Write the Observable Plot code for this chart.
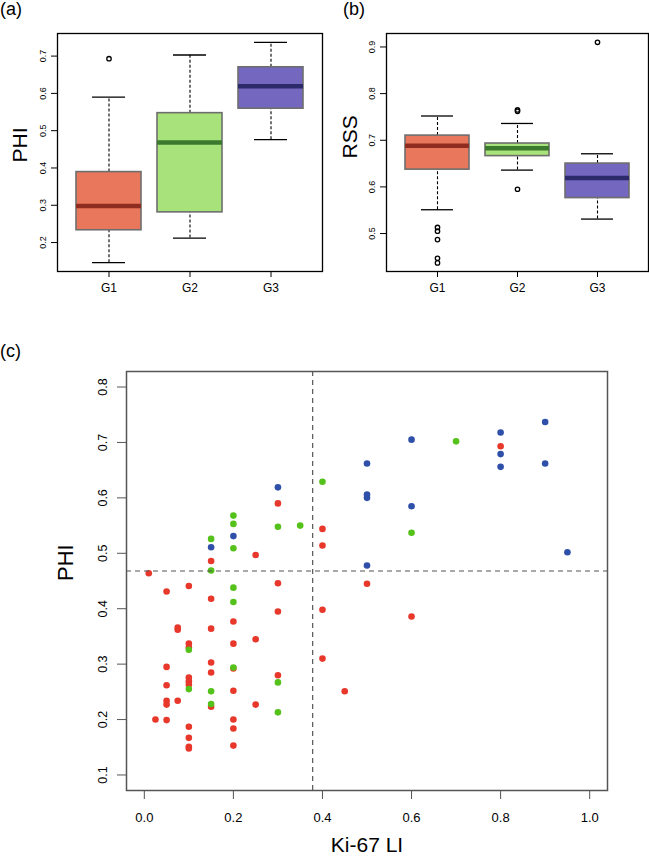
<!DOCTYPE html>
<html><head><meta charset="utf-8">
<script src="https://cdn.jsdelivr.net/npm/d3@7"></script>
<script src="https://cdn.jsdelivr.net/npm/@observablehq/plot@0.6"></script>
<style>
body{margin:0;background:#fff;}
#wrap{position:relative;width:649px;height:857px;font-family:"Liberation Sans",Arial,Helvetica,sans-serif;overflow:hidden;background:#fff}
.pl{position:absolute;font-size:18px;color:#000;line-height:1}
.panel{position:absolute}
.panel svg{display:block}
</style></head><body>
<div id="wrap">
  <div class="panel" id="pa" style="left:0;top:0"></div>
  <div class="panel" id="pb" style="left:330px;top:0"></div>
  <div class="panel" id="pc" style="left:0;top:330px"></div>
  <div class="pl" style="left:0;top:0">(a)</div>
  <div class="pl" style="left:343px;top:0">(b)</div>
  <div class="pl" style="left:0;top:342px">(c)</div>
</div>
<script>
// ---- data ----
const groups = ["G1", "G2", "G3"];

// (a) PHI boxplot statistics
const phiMin = [0.146, 0.212, 0.476];
const phiQ1  = [0.233, 0.281, 0.559];
const phiMed = [0.298, 0.468, 0.619];
const phiQ3  = [0.389, 0.547, 0.670];
const phiMax = [0.590, 0.703, 0.737];
const phiOutGroup = ["G1"];
const phiOutValue = [0.693];
const phiTicks = [0.2, 0.3, 0.4, 0.5, 0.6, 0.7];

// (b) RSS boxplot statistics
const rssMin = [0.551, 0.636, 0.531];
const rssQ1  = [0.637, 0.666, 0.576];
const rssMed = [0.688, 0.683, 0.619];
const rssQ3  = [0.710, 0.693, 0.650];
const rssMax = [0.752, 0.736, 0.671];
const rssOutGroup = ["G1", "G1", "G1", "G1", "G1", "G2", "G2", "G2", "G3"];
const rssOutValue = [0.513, 0.505, 0.487, 0.447, 0.437, 0.765, 0.762, 0.595, 0.910];
const rssTicks = [0.5, 0.6, 0.7, 0.8, 0.9];

// (c) scatter: Ki-67 LI vs PHI
const g1Ki  = [0.01, 0.025, 0.05, 0.05, 0.05, 0.05, 0.05, 0.05, 0.075, 0.075, 0.075,
               0.1, 0.1, 0.1, 0.1, 0.1, 0.1, 0.1, 0.1, 0.1, 0.1,
               0.15, 0.15, 0.15, 0.15, 0.15, 0.15,
               0.2, 0.2, 0.2, 0.2, 0.2, 0.2, 0.2,
               0.25, 0.25, 0.25, 0.3, 0.3, 0.3, 0.3,
               0.4, 0.4, 0.4, 0.4, 0.45, 0.5, 0.6, 0.8];
const g1Phi = [0.464, 0.200, 0.431, 0.295, 0.262, 0.234, 0.227, 0.199, 0.366, 0.362, 0.234,
               0.441, 0.337, 0.330, 0.276, 0.269, 0.263, 0.187, 0.167, 0.151, 0.148,
               0.486, 0.418, 0.364, 0.303, 0.285, 0.223,
               0.377, 0.337, 0.292, 0.252, 0.200, 0.184, 0.153,
               0.497, 0.345, 0.227, 0.590, 0.446, 0.395, 0.280,
               0.544, 0.514, 0.398, 0.310, 0.251, 0.445, 0.386, 0.693];
const g2Ki  = [0.1, 0.1, 0.15, 0.15, 0.15, 0.15, 0.2, 0.2, 0.2, 0.2, 0.2, 0.2,
               0.3, 0.3, 0.3, 0.35, 0.4, 0.6, 0.7];
const g2Phi = [0.326, 0.255, 0.526, 0.469, 0.251, 0.228, 0.568, 0.553, 0.509, 0.438, 0.412, 0.294,
               0.548, 0.267, 0.213, 0.550, 0.629, 0.537, 0.702];
const g3Ki  = [0.15, 0.2, 0.3, 0.5, 0.5, 0.5, 0.5, 0.6, 0.6, 0.8, 0.8, 0.8, 0.9, 0.9, 0.95];
const g3Phi = [0.511, 0.531, 0.619, 0.662, 0.606, 0.600, 0.478, 0.705, 0.585, 0.718, 0.679, 0.656, 0.737, 0.662, 0.502];
const phiCut = 0.468;
const kiCut = 0.378;
const kiTicks = [0, 0.2, 0.4, 0.6, 0.8, 1.0];
const phiTicksC = [0.1, 0.2, 0.3, 0.4, 0.5, 0.6, 0.7, 0.8];

// ---- styles ----
const FONT = '"Liberation Sans", Arial, Helvetica, sans-serif';
const boxFill = ["#E8775B", "#A8E27A", "#7367BF"];
const medColor = ["#8E2C20", "#3B7A2E", "#2D2A6B"];
const ptColor = ["#E8382B", "#55C11B", "#2F50A8"];

function boxPanel(o) {
  const stats = groups.map((g, i) => ({group: g, min: o.mins[i], q1: o.q1s[i], med: o.meds[i], q3: o.q3s[i], max: o.maxs[i]}));
  const outs = o.outG.map((g, i) => ({group: g, value: o.outV[i]}));
  const gi = d => groups.indexOf(d.group);
  return Plot.plot({
    width: o.width, height: 320,
    marginLeft: o.marginLeft, marginRight: o.marginRight, marginTop: 33, marginBottom: 49,
    style: {fontFamily: FONT, color: "#000", background: "#fff"},
    x: {type: "band", domain: groups, paddingInner: 0.2, paddingOuter: 0.22},
    y: {domain: o.yDomain},
    marks: [
      Plot.ruleX(stats, {x: "group", y1: "q3", y2: "max", stroke: "#000", strokeWidth: 1.1, strokeDasharray: "3,2"}),
      Plot.ruleX(stats, {x: "group", y1: "min", y2: "q1", stroke: "#000", strokeWidth: 1.1, strokeDasharray: "3,2"}),
      Plot.tickY(stats, {x: "group", y: "max", insetLeft: 16, insetRight: 16, stroke: "#000", strokeWidth: 1.3}),
      Plot.tickY(stats, {x: "group", y: "min", insetLeft: 16, insetRight: 16, stroke: "#000", strokeWidth: 1.3}),
      Plot.barY(stats, {x: "group", y1: "q1", y2: "q3", fill: d => boxFill[gi(d)], stroke: "#6e6e6e", strokeWidth: 1.6}),
      Plot.tickY(stats, {x: "group", y: "med", stroke: d => medColor[gi(d)], strokeWidth: 4.5}),
      Plot.dot(outs, {x: "group", y: "value", r: 2.2, stroke: "#000", strokeWidth: 1.3, fill: "none"}),
      Plot.frame({stroke: "#000", strokeWidth: 1.3}),
      Plot.axisY({ticks: o.yTicks, tickRotate: -90, tickSize: 6, tickPadding: 6, fontSize: 9, tickFormat: d3.format(".1f"), label: null}),
      Plot.axisX({tickSize: 6, tickPadding: 6, fontSize: 12, label: null}),
      Plot.text([o.ylab], {text: d => d, frameAnchor: "left", rotate: -90, dx: o.labDx, dy: o.labDy, lineAnchor: "bottom", fontSize: 21})
    ]
  });
}

document.getElementById("pa").appendChild(boxPanel({
  mins: phiMin, q1s: phiQ1, meds: phiMed, q3s: phiQ3, maxs: phiMax,
  outG: phiOutGroup, outV: phiOutValue, yDomain: [0.1224, 0.7606], yTicks: phiTicks,
  ylab: "PHI", width: 330, marginLeft: 57, marginRight: 8, labDx: -30.5, labDy: 10
}));
document.getElementById("pb").appendChild(boxPanel({
  mins: rssMin, q1s: rssQ1, meds: rssMed, q3s: rssQ3, maxs: rssMax,
  outG: rssOutGroup, outV: rssOutValue, yDomain: [0.4186, 0.9289], yTicks: rssTicks,
  ylab: "RSS", width: 319, marginLeft: 56, marginRight: 1, labDx: -29.3, labDy: 6
}));

const pts = [
  ...g1Ki.map((x, i) => ({ki: x, phi: g1Phi[i], g: 0})),
  ...g2Ki.map((x, i) => ({ki: x, phi: g2Phi[i], g: 1})),
  ...g3Ki.map((x, i) => ({ki: x, phi: g3Phi[i], g: 2}))
];

document.getElementById("pc").appendChild(Plot.plot({
  width: 649, height: 527,
  marginLeft: 126, marginRight: 42, marginTop: 41, marginBottom: 67,
  style: {fontFamily: FONT, color: "#000", background: "#fff"},
  x: {domain: [-0.04, 1.04]},
  y: {domain: [0.072, 0.828]},
  marks: [
    Plot.dot(pts, {x: "ki", y: "phi", r: 3.3, fill: d => ptColor[d.g], stroke: "none"}),
    Plot.ruleY([phiCut], {stroke: "#555", strokeWidth: 1.2, strokeDasharray: "5,4"}),
    Plot.ruleX([kiCut], {stroke: "#555", strokeWidth: 1.2, strokeDasharray: "5,4"}),
    Plot.frame({stroke: "#555", strokeWidth: 1.5}),
    Plot.axisY({ticks: phiTicksC, tickRotate: -90, tickSize: 9, tickPadding: 11, fontSize: 12.5, tickFormat: d3.format(".1f"), label: null, stroke: "#555"}),
    Plot.axisX({ticks: kiTicks, tickSize: 9, tickPadding: 13, fontSize: 13, tickFormat: d3.format(".1f"), label: null, stroke: "#555"}),
    Plot.text(["PHI"], {text: d => d, frameAnchor: "left", rotate: -90, dx: -54, lineAnchor: "bottom", fontSize: 22}),
    Plot.text(["Ki-67 LI"], {text: d => d, frameAnchor: "bottom", dy: 61, lineAnchor: "bottom", fontSize: 21})
  ]
}));
</script>
</body></html>
